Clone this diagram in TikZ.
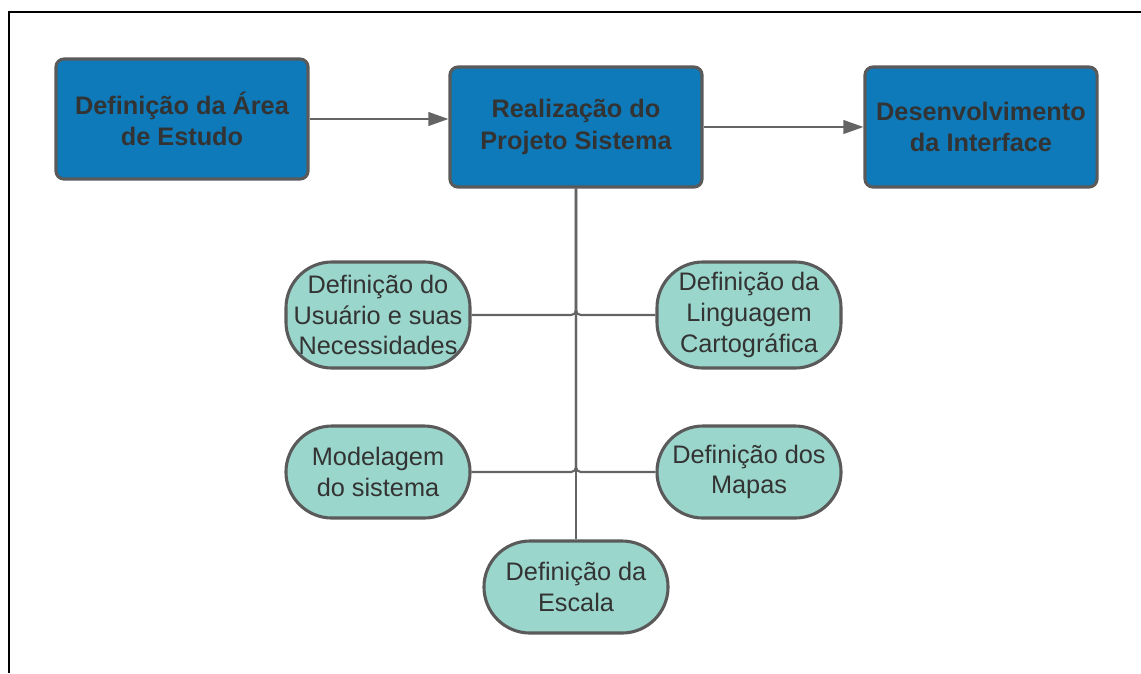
\documentclass[tikz,border=0pt]{standalone}
\usepackage{fontspec}
\setmainfont{Liberation Sans}
\usetikzlibrary{arrows.meta}

\definecolor{boxblue}{RGB}{14,122,186}
\definecolor{boxteal}{RGB}{154,214,203}
\definecolor{edgegray}{RGB}{90,90,90}
\definecolor{linegray}{RGB}{100,100,100}
\definecolor{txtgray}{RGB}{51,51,51}

\begin{document}
\begin{tikzpicture}[x=0.025cm,y=-0.025cm,
	etapa/.style={draw=edgegray,line width=2.2pt,fill=boxblue,rounded corners=0.2cm,
		text=txtgray,font=\fontsize{18}{22.5}\selectfont\bfseries,align=center,
		minimum width=6.3cm,minimum height=3cm,inner sep=0pt},
	tarefa/.style={draw=edgegray,line width=2.2pt,fill=boxteal,rounded corners=1.15cm,
		text=txtgray,font=\fontsize{18}{21.8}\selectfont,align=center,
		minimum width=4.6cm,inner sep=0pt},
	liga/.style={draw=linegray,line width=1.5pt},
	seta/.style={liga,-{Triangle[length=0.5cm,width=0.34cm]}}]

\useasboundingbox (0,0) rectangle (1141,673);

% moldura
\draw[line width=1.4pt] (9,673) -- (9,12) -- (1141,12);

% etapas
\node[etapa] (a) at (182,119) {Defini\c{c}\~ao da \'Area\\de Estudo};
\node[etapa] (b) at (576,127) {Realiza\c{c}\~ao do\\Projeto Sistema};
\node[etapa,minimum width=5.8cm] (c) at (981,127) {Desenvolvimento\\da Interface};

% tarefas
\node[tarefa,minimum height=2.65cm] (u) at (378,315) {Defini\c{c}\~ao do\\Usu\'ario e suas\\Necessidades};
\node[tarefa,minimum height=2.65cm] (l) at (749,315) {Defini\c{c}\~ao da\\Linguagem\\Cartogr\'afica};
\node[tarefa,minimum height=2.3cm] (m) at (378,472) {Modelagem\\do sistema};
\node[tarefa,minimum height=2.3cm] (p) at (749,472) {Defini\c{c}\~ao dos\\Mapas};
\node[tarefa,minimum height=2.3cm] (e) at (576,587) {Defini\c{c}\~ao da\\Escala};

\draw[seta] (a.east) -- (a.east -| b.west);
\draw[seta] (b.east) -- (c.west);

\draw[liga] (b.south) -- (e.north);
\foreach \t in {u,l,m,p}
	\draw[liga,rounded corners=0.12cm] (\t) -| (b.south);

\end{tikzpicture}
\end{document}
